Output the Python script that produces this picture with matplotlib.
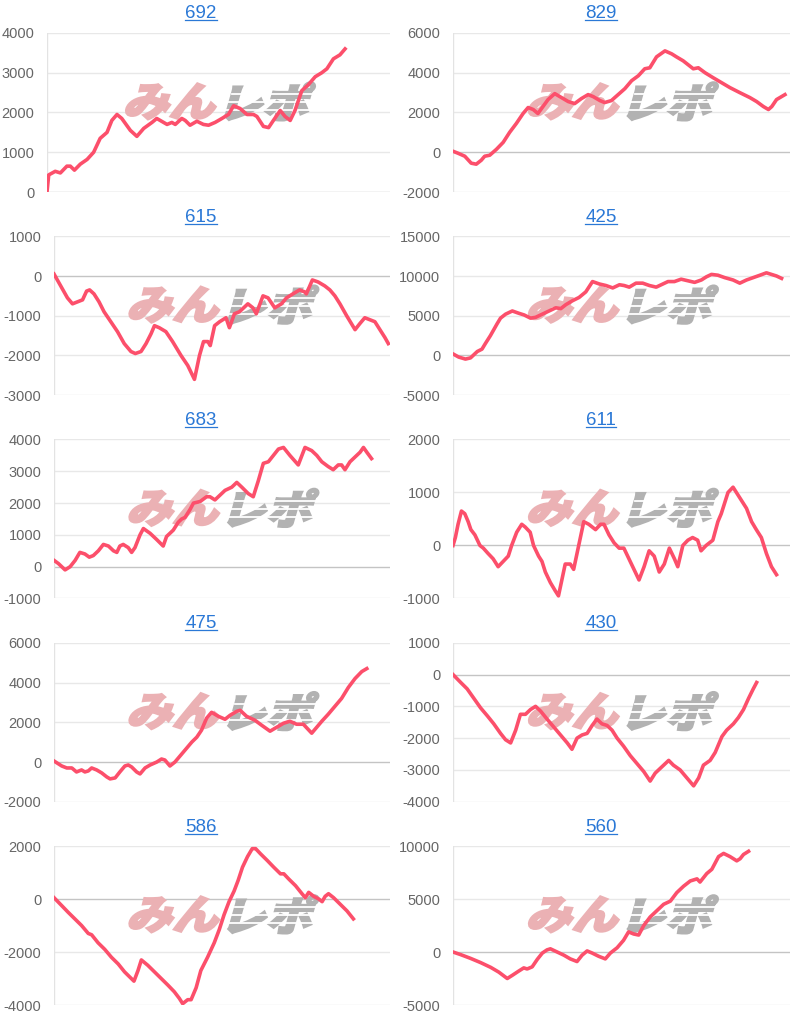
import matplotlib.pyplot as plt
from matplotlib.textpath import TextPath
from matplotlib.patches import PathPatch
from matplotlib.font_manager import FontProperties
from matplotlib.transforms import Affine2D, IdentityTransform
from matplotlib.lines import Line2D

plt.rcParams['font.family'] = ['Liberation Sans', 'DejaVu Sans']

# x = position along the game axis (0-100), y = balance
titles = ['692', '829', '615', '425', '683', '611', '475', '430', '586', '560']

x692 = [0, 0.5, 2.4, 3.9, 5.8, 6.8, 8.0, 9.7, 11.7, 13.6, 15.5, 17.5, 18.9, 20.4, 21.8, 24.3, 26.2, 28.2,
        30.6, 32.0, 34.0, 35.0, 36.4, 37.4, 39.3, 40.3, 41.7, 43.7, 45.6, 47.1, 49.0, 51.0, 52.9, 54.4,
        56.3, 58.3, 60.2, 61.2, 63.1, 64.6, 66.0, 68.0, 69.4, 70.9, 72.3, 74.3, 76.2, 78.2, 80.1, 81.6,
        83.5, 85.4, 86.9]
y692 = [0, 430, 520, 480, 650, 650, 550, 700, 820, 1000, 1350, 1500, 1800, 1950, 1850, 1550, 1400, 1600,
        1750, 1850, 1750, 1700, 1750, 1700, 1850, 1800, 1680, 1780, 1700, 1680, 1750, 1850, 1950, 2170,
        2100, 1950, 1950, 1900, 1650, 1620, 1800, 2050, 1900, 1800, 2050, 2550, 2700, 2900, 3000, 3100,
        3350, 3450, 3600]

x829 = [0, 1.5, 3.5, 5.4, 6.9, 8.4, 9.4, 10.9, 12.9, 14.9, 16.8, 18.8, 20.8, 22.3, 23.8, 25.2, 26.7,
        28.2, 30.2, 32.2, 34.2, 36.1, 38.1, 40.1, 41.6, 43.6, 45.0, 47.0, 49.0, 51.0, 53.0, 55.0, 56.9,
        58.4, 60.4, 62.9, 64.9, 66.3, 68.3, 71.3, 72.8, 74.8, 77.2, 79.2, 82.2, 85.1, 88.1, 90.1, 92.1,
        93.6, 94.6, 96.0, 97.5, 98.5]
y829 = [50, -50, -200, -550, -600, -400, -200, -150, 150, 500, 1000, 1450, 1950, 2250, 2150, 1950, 2300,
        2650, 2950, 2750, 2550, 2450, 2700, 2900, 2800, 2600, 2500, 2600, 2900, 3200, 3600, 3850, 4200,
        4250, 4800, 5100, 4950, 4800, 4600, 4200, 4250, 4000, 3750, 3550, 3250, 3000, 2750, 2550, 2300,
        2150, 2300, 2650, 2800, 2900]

x615 = [0, 2.0, 4.0, 5.5, 7.0, 8.5, 9.7, 10.6, 11.9, 13.4, 14.9, 16.9, 18.9, 20.9, 22.9, 24.2, 25.9,
        27.4, 28.9, 29.9, 31.3, 33.3, 35.3, 37.8, 39.8, 41.8, 43.3, 44.5, 45.8, 46.5, 47.8, 49.3, 51.2,
        52.2, 53.7, 55.2, 57.7, 59.2, 60.2, 62.2, 63.7, 65.7, 67.7, 69.2, 71.1, 73.1, 74.6, 75.1, 76.9,
        78.6, 80.6, 82.1, 83.6, 85.1, 87.1, 89.6, 91.0, 92.5, 94.0, 95.5, 97.0, 98.5, 99.5]
y615 = [50, -250, -550, -700, -650, -600, -380, -350, -450, -650, -900, -1150, -1400, -1700, -1900,
        -1950, -1900, -1700, -1450, -1250, -1300, -1400, -1650, -2000, -2250, -2600, -2000, -1650, -1650,
        -1750, -1250, -1150, -1050, -1300, -950, -900, -700, -800, -950, -500, -550, -800, -700, -550,
        -450, -350, -400, -450, -100, -150, -250, -350, -500, -700, -1000, -1350, -1200, -1050, -1100,
        -1150, -1350, -1550, -1700]

x425 = [0, 1.7, 3.7, 5.2, 7.2, 8.6, 9.6, 11.1, 13.1, 14.1, 15.6, 17.6, 19.6, 21.1, 23.0, 24.5, 26.5,
        28.5, 30.5, 32.0, 33.5, 35.5, 37.4, 39.4, 41.4, 43.4, 45.4, 47.4, 49.4, 50.8, 52.3, 54.3, 56.3,
        58.3, 60.3, 62.3, 63.8, 65.7, 67.7, 69.7, 71.7, 73.7, 75.2, 76.7, 78.6, 80.6, 83.1, 85.1, 87.1,
        89.1, 91.1, 93.0, 94.5, 96.0, 97.5]
y425 = [200, -200, -450, -300, 500, 800, 1500, 2500, 4000, 4700, 5200, 5600, 5300, 5100, 4700, 4800,
        5200, 5600, 6000, 5900, 6400, 6900, 7300, 8000, 9300, 9000, 8800, 8500, 8900, 8800, 8600, 9100,
        9100, 8800, 8600, 9000, 9300, 9300, 9600, 9400, 9200, 9500, 9900, 10200, 10100, 9800, 9500, 9100,
        9500, 9800, 10100, 10400, 10200, 10000, 9700]

x683 = [0, 1.3, 3.3, 4.8, 6.3, 7.7, 9.2, 10.5, 11.7, 13.2, 14.7, 16.2, 17.7, 18.7, 19.6, 20.6, 22.1,
        23.1, 24.1, 25.6, 26.6, 28.6, 30.6, 32.5, 33.5, 35.5, 37.0, 38.0, 39.0, 40.5, 41.5, 43.5, 45.4,
        46.4, 47.9, 49.4, 50.9, 52.9, 54.4, 55.9, 57.8, 59.3, 60.8, 62.3, 63.8, 65.3, 66.8, 68.3, 70.2,
        72.7, 74.7, 76.7, 78.2, 79.7, 81.6, 83.1, 84.6, 85.6, 86.6, 88.1, 89.6, 91.1, 92.1, 93.1, 94.5]
y683 = [200, 100, -100, 0, 200, 450, 400, 300, 350, 500, 700, 650, 500, 450, 650, 700, 600, 450, 600,
        1000, 1200, 1050, 850, 650, 950, 1150, 1400, 1500, 1550, 1800, 2000, 2050, 2200, 2200, 2100, 2250,
        2400, 2500, 2650, 2500, 2300, 2200, 2700, 3250, 3300, 3500, 3700, 3750, 3500, 3200, 3750, 3650,
        3500, 3300, 3150, 3050, 3200, 3200, 3050, 3300, 3450, 3600, 3750, 3600, 3400]

x611 = [0, 0.7, 1.5, 2.5, 3.5, 4.5, 5.3, 6.5, 8.0, 9.0, 10.4, 11.9, 13.4, 14.9, 16.4, 17.4, 18.9, 20.4,
        21.4, 22.9, 23.9, 25.4, 26.4, 27.4, 28.9, 30.3, 31.3, 32.3, 33.3, 34.8, 35.8, 37.3, 38.8, 40.3,
        42.3, 43.8, 44.8, 46.3, 47.8, 49.3, 50.7, 52.2, 53.7, 55.2, 56.7, 58.2, 59.7, 61.2, 62.7, 64.2,
        65.7, 66.7, 68.2, 69.7, 71.1, 72.6, 73.6, 75.1, 77.1, 78.6, 79.6, 81.6, 83.1, 85.1, 87.1, 88.6,
        90.0, 91.5, 93.0, 94.5, 96.0]
y611 = [0, 150, 400, 650, 600, 450, 300, 200, 0, -50, -150, -250, -400, -300, -200, 0, 250, 400, 350,
        250, 0, -200, -300, -500, -700, -850, -950, -650, -350, -350, -450, 0, 450, 400, 300, 400, 400,
        200, 50, -50, -50, -250, -450, -650, -400, -100, -200, -500, -350, -50, -250, -400, 0, 100, 150,
        100, -100, 0, 100, 450, 600, 1000, 1100, 900, 700, 450, 300, 150, -150, -400, -550]

x475 = [0, 2.3, 3.8, 5.3, 6.7, 8.2, 9.2, 10.2, 11.2, 12.7, 14.2, 15.7, 16.7, 18.2, 19.6, 21.1, 22.1,
        23.1, 24.6, 25.6, 27.1, 28.6, 30.6, 32.0, 33.0, 34.5, 36.0, 38.0, 39.5, 41.0, 42.5, 43.9, 45.4,
        46.9, 48.9, 50.9, 52.4, 54.4, 55.4, 57.3, 59.8, 61.8, 64.3, 66.3, 68.3, 70.2, 72.2, 74.2, 76.7,
        78.2, 79.7, 81.6, 83.6, 85.6, 87.6, 89.6, 91.6, 93.1]
y475 = [50, -200, -300, -300, -500, -400, -500, -450, -300, -400, -550, -750, -850, -800, -500, -200,
        -150, -250, -500, -600, -300, -150, 0, 150, 100, -200, 0, 400, 700, 1000, 1250, 1600, 2200, 2500,
        2300, 2150, 2350, 2550, 2600, 2300, 2100, 1850, 1550, 1750, 1950, 2050, 1900, 1900, 1450, 1750,
        2050, 2400, 2800, 3200, 3750, 4200, 4550, 4700]

x430 = [0, 2.3, 4.2, 6.2, 8.2, 10.2, 12.1, 14.1, 15.6, 17.1, 18.6, 20.0, 21.5, 23.0, 24.5, 26.0, 27.9,
        29.9, 31.9, 33.9, 35.3, 36.8, 38.3, 39.8, 41.3, 42.7, 44.2, 45.7, 47.2, 48.7, 50.6, 52.6, 54.6,
        56.6, 58.5, 60.0, 62.0, 64.0, 65.4, 67.4, 69.4, 71.4, 72.9, 74.3, 76.3, 77.8, 79.8, 81.2, 83.2,
        84.7, 86.2, 87.7, 89.1, 90.1]
y430 = [0, -250, -450, -750, -1050, -1300, -1550, -1850, -2050, -2150, -1750, -1250, -1250, -1100,
        -1000, -1150, -1400, -1650, -1900, -2150, -2350, -2000, -1900, -1850, -1600, -1400, -1550, -1600,
        -1750, -2000, -2250, -2550, -2800, -3050, -3350, -3100, -2900, -2700, -2850, -3000, -3250, -3500,
        -3250, -2850, -2700, -2450, -1950, -1750, -1550, -1350, -1100, -750, -450, -250]

x586 = [0, 2.3, 4.2, 6.2, 8.2, 10.2, 11.2, 13.1, 15.1, 17.1, 19.1, 21.0, 23.0, 23.8, 25.0, 26.0, 27.9,
        29.9, 31.9, 33.9, 35.8, 37.3, 38.3, 39.8, 40.8, 42.3, 43.7, 45.7, 47.7, 49.2, 50.6, 52.1, 53.6,
        54.8, 56.1, 57.6, 59.0, 60.0, 61.5, 63.5, 65.4, 67.4, 68.4, 69.9, 71.9, 73.8, 74.8, 75.8, 77.3,
        78.8, 79.8, 80.7, 81.7, 83.2, 85.2, 87.2, 89.1]
y586 = [50, -250, -500, -750, -1000, -1300, -1350, -1650, -1900, -2200, -2450, -2750, -3000, -3100,
        -2700, -2300, -2500, -2750, -3000, -3250, -3500, -3750, -3950, -3800, -3800, -3350, -2700, -2200,
        -1650, -1150, -600, -100, 300, 700, 1200, 1600, 1900, 1900, 1700, 1450, 1200, 950, 950, 750, 500,
        200, 50, 250, 100, 0, -100, 100, 200, 50, -200, -450, -750]

x560 = [0, 2.3, 5.2, 8.2, 11.2, 13.6, 16.1, 17.6, 19.5, 21.0, 22.0, 23.5, 25.0, 26.5, 27.9, 28.9, 30.9,
        32.9, 34.8, 36.8, 38.3, 39.8, 41.3, 43.2, 45.2, 46.7, 48.7, 50.6, 52.1, 53.6, 55.1, 56.6, 58.5,
        60.5, 62.5, 64.5, 66.4, 68.4, 70.4, 72.4, 73.3, 75.3, 76.8, 78.8, 80.3, 82.2, 84.2, 85.2, 86.2,
        87.7]
y560 = [0, -250, -600, -1000, -1450, -1900, -2500, -2200, -1800, -1500, -1600, -1400, -700, -100, 200,
        300, 0, -300, -650, -900, -300, 100, -100, -400, -650, -100, 400, 1100, 1900, 1700, 1600, 2500,
        3300, 3900, 4500, 4800, 5600, 6200, 6700, 6900, 6600, 7400, 7800, 9000, 9300, 9000, 8600, 8800,
        9200, 9500]

xs = [x692, x829, x615, x425, x683, x611, x475, x430, x586, x560]
ys = [y692, y829, y615, y425, y683, y611, y475, y430, y586, y560]

yticks = [
    [0, 1000, 2000, 3000, 4000],
    [-2000, 0, 2000, 4000, 6000],
    [-3000, -2000, -1000, 0, 1000],
    [-5000, 0, 5000, 10000, 15000],
    [-1000, 0, 1000, 2000, 3000, 4000],
    [-1000, 0, 1000, 2000],
    [-2000, 0, 2000, 4000, 6000],
    [-4000, -3000, -2000, -1000, 0, 1000],
    [-4000, -2000, 0, 2000],
    [-5000, 0, 5000, 10000],
]

W, H = 800, 1013
LINE = '#fc4f6b'
LINK = '#2a78d6'
fig = plt.figure(figsize=(W / 100, H / 100), dpi=100)

wm_font = FontProperties(family='Noto Sans CJK JP', weight='heavy')


def watermark(ax):
    # "みんレポ" logo: pink + grey, slanted, with white speed stripes on the grey half
    cx, cy = ax.transAxes.transform((0.51, 0.57))
    for txt, col, dx in (('みん', '#ebb1b4', -49), ('レポ', '#b2b2b2', 48)):
        tp = TextPath((0, 0), txt, size=46, prop=wm_font)
        ext = tp.get_extents()
        tr = (Affine2D().translate(-(ext.x0 + ext.x1) / 2, -(ext.y0 + ext.y1) / 2)
              .scale(1.0, 0.88).skew_deg(16, 0).translate(cx + dx, cy))
        patch = PathPatch(tr.transform_path(tp), fc=col, ec=col, lw=1.6,
                          transform=IdentityTransform(), zorder=1, clip_on=False)
        ax.add_artist(patch)
    for k, dy in enumerate((-9, -1, 7)):
        stripe = Line2D([cx + 2 + 4 * k, cx + 100], [cy + dy, cy + dy], color='white', lw=1.3,
                        transform=IdentityTransform(), zorder=1.5, clip_on=False)
        ax.add_artist(stripe)


title_texts = []
for i, name in enumerate(titles):
    r, c = divmod(i, 2)
    ticks = yticks[i]
    longest = max(len(str(t)) for t in ticks)
    if c == 0:
        left, right = (47 if longest <= 4 else 54), 390
    else:
        left, right = 453, 790
    top = 33 + r * 203.25
    ax = fig.add_axes([left / W, 1 - (top + 159) / H, (right - left) / W, 159 / H])

    for t in ticks:
        ax.axhline(t, color='#c4c4c4' if t == 0 else '#e8e8e8', lw=1, zorder=0)
    ax.axvline(0, color='#e3e3e3', lw=1, zorder=0)

    ax.plot(xs[i], ys[i], color=LINE, lw=2.6, solid_joinstyle='round', zorder=3)
    ax.set_xlim(0, 100)
    ax.set_ylim(ticks[0], ticks[-1])
    ax.set_yticks(ticks)
    ax.set_yticklabels([str(t) for t in ticks])
    ax.set_xticks([])
    ax.tick_params(axis='y', length=0, pad=9, labelsize=10.5, labelcolor='#666666')
    for s in ax.spines.values():
        s.set_visible(False)
    watermark(ax)

    tt = fig.text((c * 400 + 201) / W, 1 - (r * 203.25 + 18.5) / H, name,
                  ha='center', va='baseline', fontsize=13.5, color=LINK)
    title_texts.append(tt)

# underline the titles like links
fig.canvas.draw()
inv = fig.transFigure.inverted()
for tt in title_texts:
    bb = tt.get_window_extent()
    _, yb = tt.get_transform().transform(tt.get_position())
    p0 = inv.transform((bb.x0, yb - 2))
    p1 = inv.transform((bb.x1, yb - 2))
    fig.add_artist(Line2D([p0[0], p1[0]], [p0[1], p1[1]], color=LINK, lw=0.9,
                          transform=fig.transFigure))

fig.savefig('out.png', dpi=100)
